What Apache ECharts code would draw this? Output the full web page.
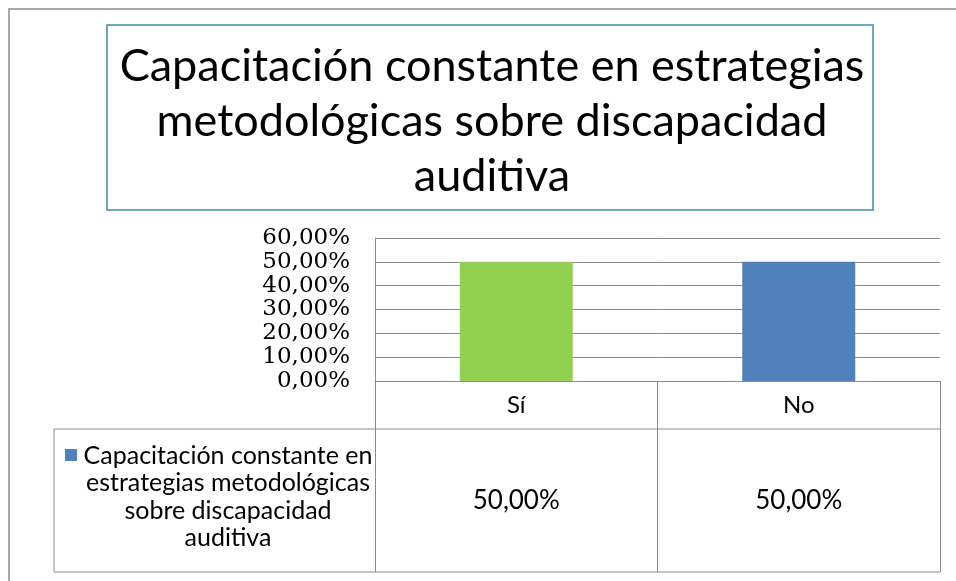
<!DOCTYPE html>
<html>
<head>
<meta charset="utf-8">
<script src="https://cdn.jsdelivr.net/npm/echarts@6/dist/echarts.min.js"></script>
<style>
  html, body { margin: 0; padding: 0; background: #fff; }
  #chart { width: 956px; height: 581px; }
</style>
</head>
<body>
<div id="chart"></div>
<script>
// datos del gráfico
const titleText = "Capacitación constante en estrategias\nmetodológicas sobre discapacidad\nauditiva";
const seriesName = "Capacitación constante en\nestrategias metodológicas\nsobre discapacidad\nauditiva";
const categories = ["Sí", "No"];
const values = [0.5, 0.5];
const barColors = ["#92d050", "#4f81bd"];
const seriesColor = "#4f81bd";
const yMin = 0, yMax = 0.6, yStep = 0.1;

// 0.5 -> "50,00%"
function fmt(v) {
  return (v * 100).toFixed(2).replace(".", ",") + "%";
}

const lineColor = "#8a8a8a";
let myChart = echarts.init(document.getElementById("chart"));

myChart.setOption({
  animation: false,
  title: {
    text: titleText,
    left: 487,
    top: 34,
    textAlign: "center",
    textStyle: {
      fontFamily: "Lato",
      fontSize: 45,
      fontWeight: "normal",
      lineHeight: 55,
      color: "#000",
    },
  },
  grid: {
    left: 375,
    right: 16,
    top: 238,
    bottom: 200,
  },
  xAxis: {
    type: "category",
    data: categories,
    axisLine: { lineStyle: { color: lineColor, width: 1 } },
    axisTick: { show: true, length: 191, lineStyle: { color: lineColor } },
    axisLabel: {
      margin: 0,
      interval: 0,
      formatter: (v, i) => "{cat|" + v + "}\n{val|" + fmt(values[i]) + "}",
      rich: {
        cat: { fontFamily: "Lato", fontSize: 24, lineHeight: 48, color: "#000" },
        val: { fontFamily: "Lato", fontSize: 26, lineHeight: 143, color: "#000" },
      },
    },
  },
  yAxis: {
    type: "value",
    min: yMin,
    max: yMax,
    interval: yStep,
    axisLine: { show: true, lineStyle: { color: lineColor } },
    axisTick: { show: false },
    axisLabel: {
      margin: 25,
      formatter: fmt,
      fontFamily: "DejaVu Serif",
      fontSize: 23,
      color: "#000",
    },
    splitLine: { lineStyle: { color: lineColor } },
  },
  series: [
    {
      name: seriesName,
      type: "bar",
      barWidth: "40%",
      data: values.map((v, i) => ({ value: v, itemStyle: { color: barColors[i] } })),
      itemStyle: { color: seriesColor },
    },
  ],
  graphic: [
    // marco exterior
    { type: "rect", shape: { x: 9, y: 9, width: 980, height: 600 }, style: { fill: "none", stroke: "#a8a8a8", lineWidth: 2 }, silent: true },
    // recuadro del título
    { type: "rect", shape: { x: 107, y: 25, width: 766, height: 185 }, style: { fill: "none", stroke: "#4a8c9c", lineWidth: 1.5 }, silent: true },
    // tabla de datos
    { type: "line", shape: { x1: 54, y1: 429, x2: 940, y2: 429 }, style: { stroke: lineColor, lineWidth: 1 }, silent: true },
    { type: "line", shape: { x1: 54, y1: 572, x2: 940, y2: 572 }, style: { stroke: lineColor, lineWidth: 1 }, silent: true },
    { type: "line", shape: { x1: 54, y1: 429, x2: 54, y2: 572 }, style: { stroke: lineColor, lineWidth: 1 }, silent: true },
    // leyenda
    { type: "rect", shape: { x: 65, y: 449, width: 12, height: 12 }, style: { fill: seriesColor }, silent: true },
    {
      type: "text",
      x: 228,
      y: 497,
      style: {
        text: seriesName,
        fontFamily: "Lato",
        fontSize: 25,
        lineHeight: 27.5,
        align: "center",
        verticalAlign: "middle",
        fill: "#000",
      },
      silent: true,
    },
  ],
});
</script>
</body>
</html>
